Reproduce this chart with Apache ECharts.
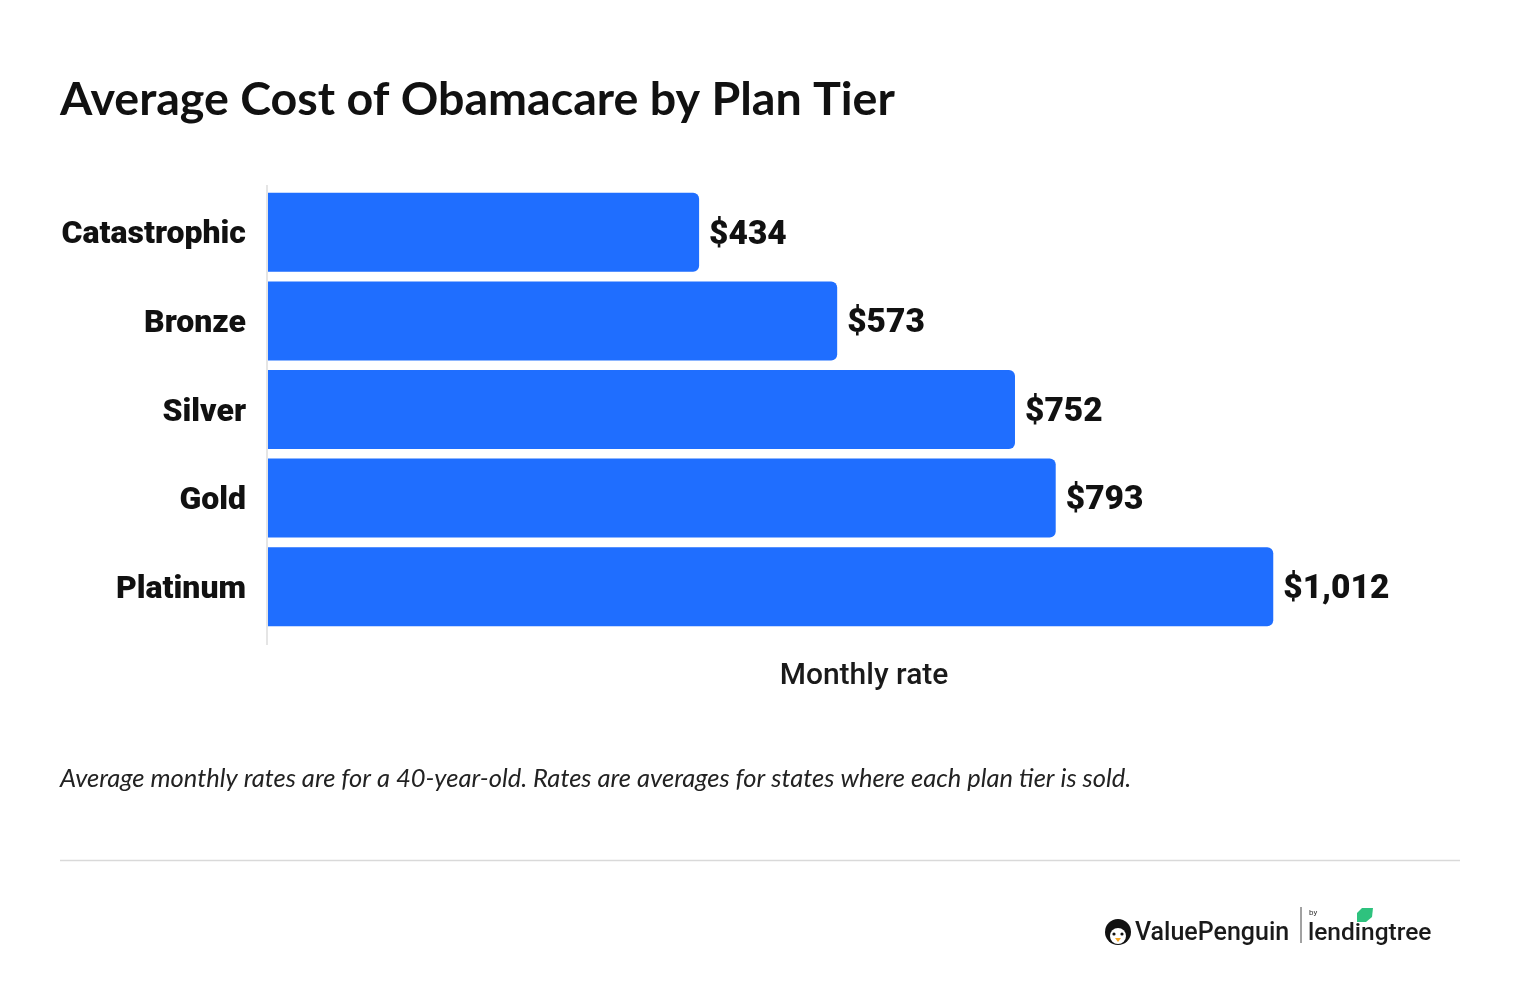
<!DOCTYPE html>
<html>
<head>
<meta charset="utf-8">
<script src="https://cdn.jsdelivr.net/npm/echarts@6/dist/echarts.min.js"></script>
<style>
html,body{margin:0;padding:0;background:#fff;}
#c{width:1520px;height:994px;}
</style>
</head>
<body>
<div id="c"></div>
<script>
const categories = ['Catastrophic', 'Bronze', 'Silver', 'Gold', 'Platinum'];
const monthlyRates = [434, 573, 752, 793, 1012];
const titleText = 'Average Cost of Obamacare by Plan Tier';
const axisName = 'Monthly rate';
const footnote = 'Average monthly rates are for a 40-year-old. Rates are averages for states where each plan tier is sold.';

const chart = echarts.init(document.getElementById('c'));
const option = {
  backgroundColor: '#ffffff',
  animation: false,
  title: {
    text: titleText,
    left: 55, top: 71,
    textStyle: { fontFamily: 'Lato', fontWeight: 'bold', fontSize: 46.6, color: '#111' }
  },
  grid: { left: 268, right: 60, top: 188, height: 443, containLabel: false },
  xAxis: {
    type: 'value', min: 0, max: 1200,
    splitLine: { show: false }, axisLine: { show: false }, axisTick: { show: false }, axisLabel: { show: false },
    name: axisName, nameLocation: 'middle', nameGap: 30,
    nameTextStyle: { fontFamily: 'Roboto', fontWeight: 500, fontSize: 30, color: '#1a1a1a' }
  },
  yAxis: {
    type: 'category', data: categories, inverse: true,
    axisLine: { show: false }, axisTick: { show: false },
    axisLabel: {
      margin: 22,
      formatter: v => '{l|' + v + '}',
      rich: { l: { fontFamily: 'Roboto', fontWeight: 900, fontSize: 32, color: '#111', padding: [6, 0, 0, 0] } }
    }
  },
  series: [{
    type: 'bar', data: monthlyRates, barWidth: 79,
    itemStyle: { color: '#1F6EFF', borderRadius: [0, 6, 6, 0] },
    label: {
      show: true, position: 'right', distance: 10,
      fontFamily: 'Roboto', fontWeight: 900, fontSize: 33.5, color: '#111',
      offset: [0, 3],
      formatter: p => '$' + p.value.toLocaleString('en-US')
    }
  }],
  graphic: [
    { type: 'line', shape: { x1: 267, y1: 185, x2: 267, y2: 645 }, style: { stroke: '#dddddd', lineWidth: 1.5 } },
    { type: 'text', left: 60, top: 766, style: { text: footnote, font: 'italic 25.5px Lato', fill: '#222' } },
    { type: 'line', shape: { x1: 60, y1: 860.5, x2: 1460, y2: 860.5 }, style: { stroke: '#d9d9d9', lineWidth: 1.5 } },
    // penguin icon
    { type: 'circle', shape: { cx: 1118, cy: 932, r: 13 }, style: { fill: '#111' } },
    { type: 'circle', shape: { cx: 1118, cy: 936, r: 8 }, style: { fill: '#fff' } },
    { type: 'circle', shape: { cx: 1114, cy: 934, r: 1.6 }, style: { fill: '#111' } },
    { type: 'circle', shape: { cx: 1122, cy: 934, r: 1.6 }, style: { fill: '#111' } },
    { type: 'polygon', shape: { points: [[1115, 938], [1121, 938], [1118, 942]] }, style: { fill: '#f5a623' } },
    { type: 'text', left: 1135, top: 921, style: { text: 'ValuePenguin', font: '500 25px Roboto', fill: '#1a1a1a' } },
    { type: 'line', shape: { x1: 1301, y1: 907, x2: 1301, y2: 943 }, style: { stroke: '#444', lineWidth: 1 } },
    { type: 'text', left: 1309, top: 909, style: { text: 'by', font: '8px Roboto', fill: '#333' } },
    { type: 'text', left: 1308, top: 921, style: { text: 'lendingtree', font: '500 24.5px Roboto', fill: '#1a1a1a' } },
    { type: 'polygon', shape: { points: [[1357, 922], [1357, 913], [1362, 908], [1373, 908], [1372, 917], [1366, 922]] }, style: { fill: '#2ec27e' } }
  ]
};
chart.setOption(option);
</script>
</body>
</html>
